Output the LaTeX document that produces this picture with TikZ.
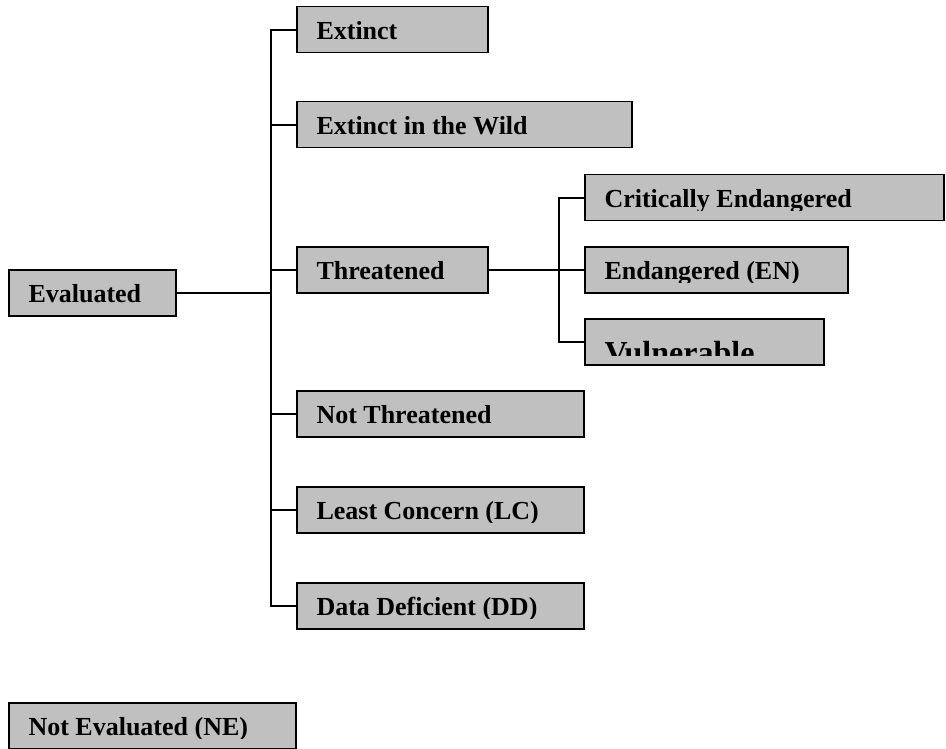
\documentclass[tikz,border=0pt]{standalone}
\usepackage{fontspec}
\setmainfont{Liberation Serif}
\usepackage{tikz}
\definecolor{boxgray}{RGB}{192,192,192}

\begin{document}
\begin{tikzpicture}[
  x=1pt, y=-1pt,
  catbox/.style={draw, line width=1.5pt, fill=boxgray, anchor=north west, minimum height=46pt, inner sep=0pt},
  label text/.style={anchor=base west, inner sep=0pt, minimum width=0pt, minimum height=0pt, draw=none, fill=none,
    font=\bfseries\fontsize{26}{30}\selectfont},
  cat/.style={catbox, path picture={
    \clip ([yshift=10pt]path picture bounding box.south west) rectangle (path picture bounding box.north east);
    \node[label text] at ([xshift=19pt,yshift=13pt]path picture bounding box.south west) {#1};}},
  bigcat/.style={catbox, path picture={
    \clip ([yshift=9pt]path picture bounding box.south west) rectangle (path picture bounding box.north east);
    \node[label text, font=\bfseries\fontsize{32}{36}\selectfont] at ([xshift=19pt,yshift=1pt]path picture bounding box.south west) {#1};}},
  link/.style={line width=1.6pt}
]
  \useasboundingbox (0,0) rectangle (946,749);

  \node[cat={Evaluated}, minimum width=167pt] (ev) at (8,269) {};

  \node[cat={Extinct}, minimum width=191pt] (ex) at (296,6) {};
  \node[cat={Extinct in the Wild}, minimum width=335pt] (exw) at (296,101) {};
  \node[cat={Threatened}, minimum width=191pt] (thr) at (296,246) {};
  \node[cat={Not Threatened}, minimum width=287pt] (nt) at (296,390) {};
  \node[cat={Least Concern (LC)}, minimum width=287pt] (lc) at (296,486) {};
  \node[cat={Data Deficient (DD)}, minimum width=287pt] (dd) at (296,582) {};

  \node[cat={Critically Endangered}, minimum width=359pt] (cr) at (584,174) {};
  \node[cat={Endangered (EN)}, minimum width=263pt] (en) at (584,246) {};
  \node[bigcat={Vulnerable}, minimum width=239pt] (vu) at (584,318) {};

  \node[cat={Not Evaluated (NE)}, minimum width=287pt] (ne) at (8,702) {};

  % main branch
  \draw[link] (ex.west) -- ++(-25,0) coordinate (tk) |- (dd.west);
  \draw[link] (ev.east) -- (ev.east -| tk);
  \foreach \n in {exw,thr,nt,lc}
    \draw[link] (\n.west) -- (\n.west -| tk);

  % threatened branch
  \draw[link] (thr.east) -- (en.west);
  \draw[link] (cr.west) -- ++(-25,0) |- (vu.west);

\end{tikzpicture}
\end{document}
